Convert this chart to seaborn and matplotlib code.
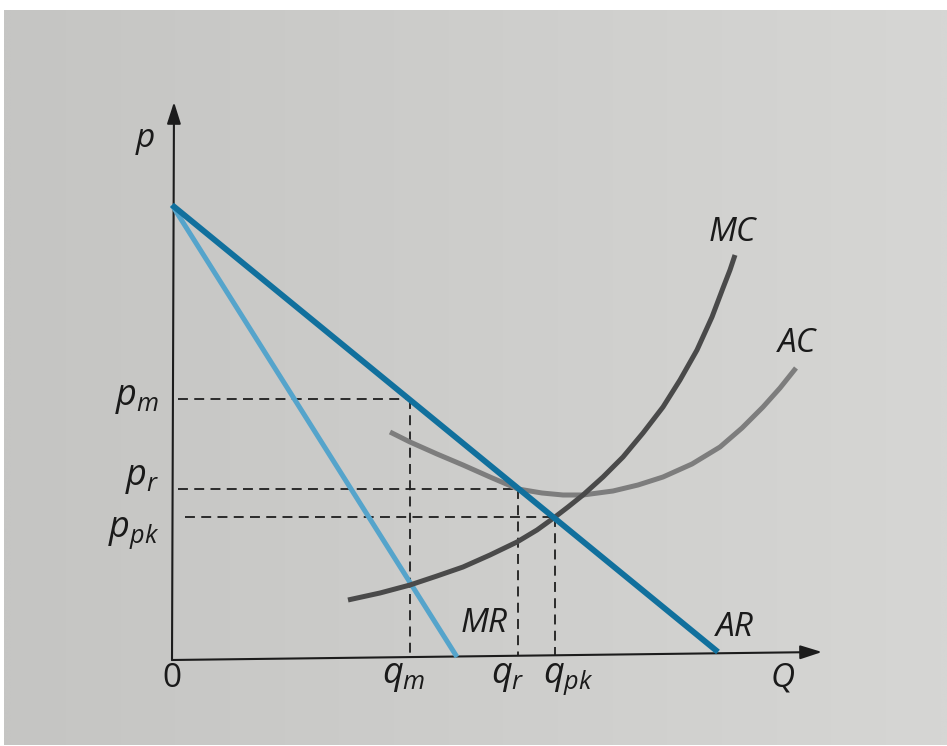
import numpy as np
import pandas as pd
import matplotlib
matplotlib.use("Agg")
import matplotlib.pyplot as plt
import seaborn as sns

# ---- data (Q = quantity, p = price) ----
ar_q = [0, 546]
ar_p = [455, 8]
mr_q = [0, 285]
mr_p = [455, 3]
mc_q = [176, 208, 238, 265, 291, 318, 345, 365, 383, 396, 411, 431, 451, 471, 491, 508, 525, 540, 551, 558, 563]
mc_p = [60, 67, 75, 84, 93, 105, 118, 130, 143, 153, 165, 183, 203, 227, 253, 280, 310, 343, 372, 390, 405]
ac_q = [218, 238, 265, 291, 318, 346, 370, 391, 411, 441, 466, 491, 520, 548, 570, 591, 608, 624]
ac_p = [228, 218, 206, 195, 183, 171, 167, 165, 165, 169, 175, 183, 196, 213, 232, 253, 272, 292]

p_levels = [261, 171, 143]           # p_m, p_r, p_pk
q_levels = [238, 346, 383]           # q_m, q_r, q_pk
h_start = [6, 6, 13]
p_labels = [r"$p_m$", r"$p_r$", r"$p_{pk}$"]
q_labels = [r"$q_m$", r"$q_r$", r"$q_{pk}$"]

sns.set_theme(style="white")
plt.rcParams["font.family"] = ["Open Sans", "DejaVu Sans"]
plt.rcParams["mathtext.fontset"] = "custom"
plt.rcParams["mathtext.it"] = "Open Sans:italic"
plt.rcParams["mathtext.rm"] = "Open Sans:italic"

W, H = 947, 746
fig = plt.figure(figsize=(W / 100, H / 100), dpi=100, facecolor="white")
# paper area of the photo
ax = fig.add_axes([4 / W, 1 / H, 943 / W, 735 / H])
ax.set_facecolor("#d0d0cd")
# origin of the graph is at pixel (172, 660)
ax.set_xlim(4 - 172, 947 - 172)
ax.set_ylim(660 - 745, 660 - 10)
ax.set_axis_off()
# subtle paper shading (darker on the left)
shade = np.linspace(0, 1, 64)[None, :] * np.ones((8, 1))
paper = np.empty(shade.shape + (3,))
for i, (a, b) in enumerate(zip((197, 197, 195), (214, 214, 212))):
    paper[..., i] = (a + (b - a) * shade) / 255
ax.imshow(paper, extent=(0, 1, 0, 1), transform=ax.transAxes, aspect="auto",
          interpolation="bilinear", zorder=0)
ax.set_xlim(4 - 172, 947 - 172)
ax.set_ylim(660 - 745, 660 - 10)

# axes arrows
axis_col = "#1c1c1c"
ax.annotate("", xy=(650, 8), xytext=(0, 0),
            arrowprops=dict(arrowstyle="-|>,head_length=1.1,head_width=0.35",
                            color=axis_col, lw=1.5, shrinkA=0, shrinkB=0), zorder=2)
ax.annotate("", xy=(2, 558), xytext=(0, 0),
            arrowprops=dict(arrowstyle="-|>,head_length=1.1,head_width=0.35",
                            color=axis_col, lw=1.5, shrinkA=0, shrinkB=0), zorder=2)

# dashed guide lines
dash = (0, (5.5, 3.5))
for p, q, h0 in zip(p_levels, q_levels, h_start):
    ax.plot([h0, q], [p, p], color="#1e1e1e", lw=1.3, linestyle=dash, zorder=3)
    ax.plot([q, q], [p, q * 8 / 650], color="#1e1e1e", lw=1.3, linestyle=dash, zorder=3)

# curves
kw = dict(ax=ax, sort=False, solid_capstyle="butt", solid_joinstyle="round")
sns.lineplot(x=mr_q, y=mr_p, color="#55a4cb", lw=3.6, zorder=4, **kw)
sns.lineplot(x=ac_q, y=ac_p, color="#7d7d7d", lw=3.6, zorder=4, **kw)
sns.lineplot(x=mc_q, y=mc_p, color="#4a4a4a", lw=3.6, zorder=5, **kw)
sns.lineplot(x=ar_q, y=ar_p, color="#11709d", lw=4.2, zorder=6, **kw)

fs = 24
tc = "#1a1a1a"
style = dict(fontsize=fs, color=tc, style="italic")
# axis titles
ax.text(-27, 513, "p", ha="center", va="baseline", **style)
ax.text(611, -27, "Q", ha="center", va="baseline", **style)
ax.text(0, -27, "0", ha="center", va="baseline", fontsize=fs, color=tc)

# price labels (right aligned, left of axis)
p_base = [255, 175, 123]
for lab, b in zip(p_labels, p_base):
    ax.text(-13, b, lab, ha="right", va="baseline", fontsize=fs + 2, color=tc)
# quantity labels
q_x = [232, 336, 396]
for lab, x in zip(q_labels, q_x):
    ax.text(x, -23, lab, ha="center", va="baseline", fontsize=fs + 2, color=tc)

# curve labels
ax.text(312, 28, "MR", ha="center", va="baseline", **style)
ax.text(563, 24, "AR", ha="center", va="baseline", **style)
ax.text(560, 419, "MC", ha="center", va="baseline", **style)
ax.text(625, 308, "AC", ha="center", va="baseline", **style)

fig.savefig("out.png", dpi=100, facecolor="white")
